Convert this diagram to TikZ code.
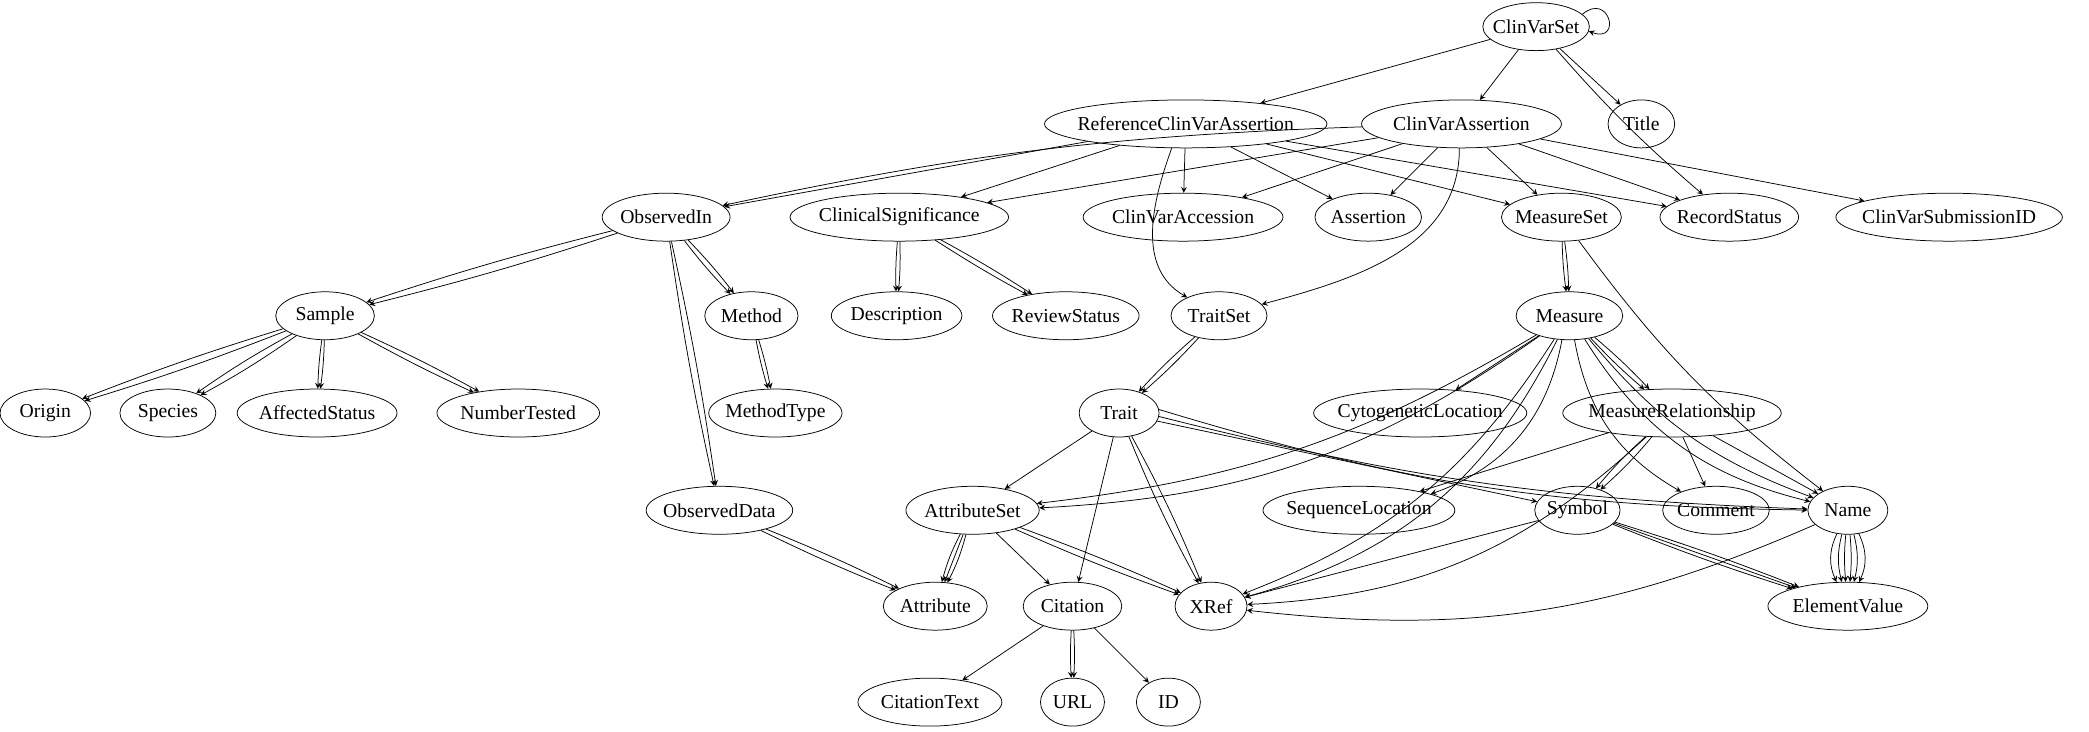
\documentclass[tikz,border=0pt]{standalone}
\usepackage{fontspec}
\setmainfont{Liberation Serif}
\usetikzlibrary{shapes.geometric}
\begin{document}
\begin{tikzpicture}[x=0.025cm,y=-0.025cm]

\tikzset{%
every node/.style={font=\fontsize{10.5}{12}\selectfont},%
every path/.style={->, >=stealth, line width=.04em}%
}

\tikzstyle{v}=[draw, ellipse, inner xsep=-30pt, inner ysep=0pt, minimum height=0.9cm, minimum width=#1]

\useasboundingbox (0,0) rectangle (1568,549);

\node[v=2.0cm] (cvs) at (1153,20) {ClinVarSet};
\node[v=5.3cm] (rcva) at (890,93) {ReferenceClinVarAssertion};
\node[v=3.75cm] (cva) at (1097,93) {ClinVarAssertion};
\node[v=1.25cm] (title) at (1232,93) {Title};

\node[v=2.4cm] (obs) at (500,163) {ObservedIn};
\node[v=4.1cm] (clinsig) at (675,163) {ClinicalSignificance};
\node[v=3.75cm] (acc) at (888,163) {ClinVarAccession};
\node[v=2.0cm] (assert) at (1027,163) {Assertion};
\node[v=2.25cm] (mset) at (1172,163) {MeasureSet};
\node[v=2.6cm] (rec) at (1298,163) {RecordStatus};
\node[v=4.25cm] (subid) at (1463,163) {ClinVarSubmissionID};

\node[v=1.85cm] (sample) at (244,237) {Sample};
\node[v=1.75cm] (method) at (564,237) {Method};
\node[v=2.45cm] (desc) at (673,237) {Description};
\node[v=2.75cm] (review) at (800,237) {ReviewStatus};
\node[v=1.8cm] (tset) at (915,237) {TraitSet};
\node[v=2.0cm] (measure) at (1178,237) {Measure};

\node[v=1.7cm] (origin) at (34,310) {Origin};
\node[v=1.8cm] (species) at (126,310) {Species};
\node[v=3.0cm] (affect) at (238,310) {AffectedStatus};
\node[v=3.05cm] (ntest) at (389,310) {NumberTested};
\node[v=2.5cm] (mtype) at (582,310) {MethodType};
\node[v=1.5cm] (trait) at (840,310) {Trait};
\node[v=4.0cm] (cyto) at (1066,310) {CytogeneticLocation};
\node[v=4.1cm] (mrel) at (1255,310) {MeasureRelationship};

\node[v=2.75cm] (odata) at (540,383) {ObservedData};
\node[v=2.5cm] (aset) at (730,383) {AttributeSet};
\node[v=3.6cm] (seqloc) at (1020,383) {SequenceLocation};
\node[v=1.6cm] (symbol) at (1184,383) {Symbol};
\node[v=2.0cm] (comment) at (1288,383) {Comment};
\node[v=1.5cm] (name) at (1387,383) {Name};

\node[v=1.95cm] (attr) at (702,455) {Attribute};
\node[v=1.85cm] (cit) at (805,455) {Citation};
\node[v=1.35cm] (xref) at (909,455) {XRef};
\node[v=3.0cm] (elval) at (1387,455) {ElementValue};

\node[v=2.7cm] (cittext) at (698,527) {CitationText};
\node[v=1.2cm] (url) at (805,527) {URL};
\node[v=1.2cm] (id) at (877,527) {ID};

% top level
\draw (cvs.15) to[out=40,in=-20,looseness=5] (cvs.-5);
\draw (cvs) to (rcva);
\draw (cvs) to (cva);
\draw (cvs) to (title);
\draw (cvs) to[bend right=4] (rec);

% assertions
\draw (rcva) to (obs);
\draw (rcva) to (clinsig);
\draw (rcva) to (acc);
\draw (rcva) to (assert);
\draw (rcva) to (mset);
\draw (rcva) to (rec);
\draw (rcva.-120) to[out=-110,in=150] (tset);
\draw (cva) to[bend right=5] (obs);
\draw (cva) to (clinsig);
\draw (cva) to (acc);
\draw (cva) to (assert);
\draw (cva) to (mset);
\draw (cva) to (rec);
\draw (cva) to (subid);
\draw (cva.-95) to[out=-90,in=15] (tset);

% observed in
\draw (obs) to[bend left=2] (sample);
\draw (obs) to[bend right=2] (sample);
\draw (obs) to[bend left=3] (method);
\draw (obs) to[bend right=3] (method);
\draw (obs) to[bend left=2] (odata);
\draw (obs) to[bend right=2] (odata);

\draw (clinsig) to[bend left=3] (desc);
\draw (clinsig) to[bend right=3] (desc);
\draw (clinsig) to[bend left=2] (review);
\draw (clinsig) to[bend right=2] (review);

\draw (mset) to[bend left=3] (measure);
\draw (mset) to[bend right=3] (measure);
\draw (mset) to[bend right=8] (name);

% sample
\draw (sample) to[bend left=2] (origin);
\draw (sample) to[bend right=2] (origin);
\draw (sample) to[bend left=3] (species);
\draw (sample) to[bend right=3] (species);
\draw (sample) to[bend left=3] (affect);
\draw (sample) to[bend right=3] (affect);
\draw (sample) to[bend left=2] (ntest);
\draw (sample) to[bend right=2] (ntest);

\draw (method) to[bend left=3] (mtype);
\draw (method) to[bend right=3] (mtype);

\draw (tset) to[bend left=3] (trait);
\draw (tset) to[bend right=3] (trait);

% measure
\draw (measure) to[bend left=12] (aset);
\draw (measure) to[bend left=16] (aset);
\draw (measure) to[bend left=18] (xref);
\draw (measure) to[bend left=24] (xref);
\draw (measure) to[bend left=30] (seqloc);
\draw (measure) to (cyto);
\draw (measure) to[bend left=3] (mrel);
\draw (measure) to[bend right=3] (mrel);
\draw (measure) to[bend right=25] (comment);
\draw (measure) to[bend right=15] (name);
\draw (measure) to[bend right=22] (name);

% trait
\draw (trait) to (aset);
\draw (trait) to (cit);
\draw (trait) to[bend left=3] (xref);
\draw (trait) to[bend right=3] (xref);
\draw (trait) to (symbol);
\draw (trait.-5) to[bend right=6] (name);
\draw (trait.5) to[bend right=8] (name);

% measure relationship
\draw (mrel) to (seqloc);
\draw (mrel) to[bend left=20] (xref);
\draw (mrel) to[bend left=4] (symbol);
\draw (mrel) to[bend right=4] (symbol);
\draw (mrel) to (comment);
\draw (mrel) to (name);

% lower part
\draw (odata) to[bend left=2] (attr);
\draw (odata) to[bend right=2] (attr);
\draw (aset) to[bend right=6] (attr);
\draw (aset) to (attr);
\draw (aset) to[bend left=6] (attr);
\draw (aset) to (cit);
\draw (aset) to[bend left=2] (xref);
\draw (aset) to[bend right=2] (xref);

\draw (symbol) to (xref);
\draw (symbol) to[bend left=2] (elval);
\draw (symbol) to (elval);
\draw (symbol) to[bend right=2] (elval);

\draw (name) to[bend left=15] (xref);
\draw (name) to[bend right=25] (elval);
\draw (name) to[bend right=14] (elval);
\draw (name) to[bend right=5] (elval);
\draw (name) to[bend left=5] (elval);
\draw (name) to[bend left=14] (elval);
\draw (name) to[bend left=25] (elval);

\draw (cit) to (cittext);
\draw (cit) to[bend left=3] (url);
\draw (cit) to[bend right=3] (url);
\draw (cit) to (id);

\end{tikzpicture}
\end{document}
